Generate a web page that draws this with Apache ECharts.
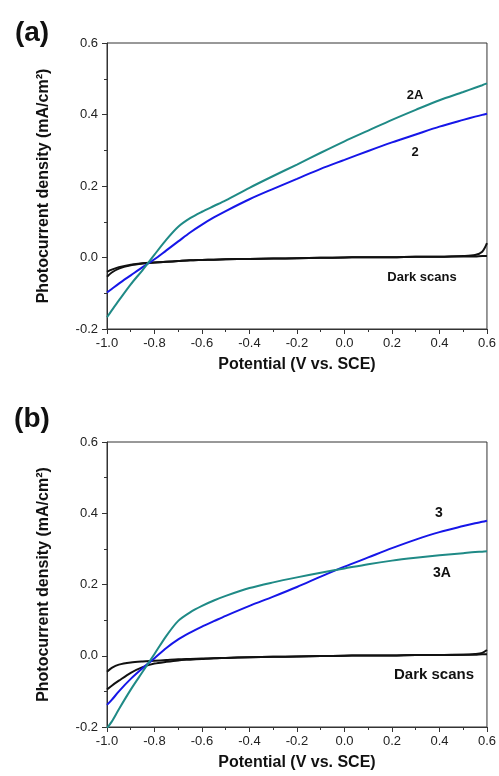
<!DOCTYPE html>
<html><head><meta charset="utf-8">
<script src="https://cdn.jsdelivr.net/npm/echarts@6/dist/echarts.min.js"></script>
<style>html,body{margin:0;padding:0;background:#fff}#c{width:499px;height:776px}</style>
</head><body><div id="c"></div>
<script>
// Shared potential grid (V vs. SCE)
const potential = [-1.0,-0.98,-0.95,-0.9,-0.85,-0.8,-0.75,-0.7,-0.65,-0.6,-0.55,-0.5,-0.4,-0.3,-0.2,-0.1,0.0,0.1,0.2,0.3,0.4,0.5,0.55,0.58,0.6];
// Panel (a)
const curve2A = [-0.167,-0.148,-0.12,-0.075,-0.035,0.008,0.05,0.086,0.11,0.128,0.144,0.16,0.195,0.228,0.26,0.293,0.325,0.355,0.385,0.413,0.44,0.463,0.475,0.482,0.487];
const curve2  = [-0.098,-0.088,-0.073,-0.05,-0.027,-0.005,0.02,0.045,0.07,0.092,0.112,0.13,0.163,0.192,0.22,0.248,0.273,0.298,0.322,0.344,0.366,0.385,0.394,0.399,0.402];
const darkA1  = [-0.054,-0.042,-0.031,-0.022,-0.017,-0.014,-0.012,-0.01,-0.008,-0.007,-0.006,-0.005,-0.004,-0.003,-0.002,-0.001,0,0.001,0.001,0.002,0.002,0.004,0.007,0.016,0.04];
const darkA2  = [-0.04,-0.034,-0.027,-0.02,-0.016,-0.014,-0.012,-0.01,-0.008,-0.007,-0.006,-0.005,-0.004,-0.003,-0.002,-0.001,0,0.001,0.001,0.002,0.002,0.003,0.003,0.004,0.004];
// Panel (b)
const curve3  = [-0.138,-0.124,-0.1,-0.065,-0.035,-0.007,0.022,0.046,0.065,0.082,0.097,0.112,0.14,0.166,0.193,0.222,0.25,0.276,0.302,0.326,0.347,0.364,0.372,0.376,0.379];
const curve3A = [-0.203,-0.185,-0.15,-0.095,-0.045,0.005,0.056,0.098,0.122,0.14,0.155,0.168,0.19,0.206,0.22,0.233,0.245,0.257,0.267,0.275,0.282,0.288,0.291,0.292,0.293];
const darkB1  = [-0.045,-0.034,-0.025,-0.019,-0.016,-0.014,-0.012,-0.01,-0.009,-0.008,-0.007,-0.006,-0.004,-0.003,-0.002,-0.001,0,0.001,0.001,0.002,0.002,0.003,0.005,0.008,0.016];
const darkB2  = [-0.095,-0.084,-0.07,-0.048,-0.032,-0.022,-0.017,-0.013,-0.011,-0.009,-0.007,-0.006,-0.004,-0.003,-0.002,-0.001,0,0.001,0.001,0.002,0.002,0.003,0.003,0.004,0.004];
// Axis settings
const xMin = -1.0, xMax = 0.6, xStep = 0.2;
const yMin = -0.2, yMax = 0.6, yStep = 0.2;
const xTitle = 'Potential (V vs. SCE)';
const yTitle = 'Photocurrent density (mA/cm\u00B2)';

const pair = ys => potential.map((x,i)=>[x, ys[i]]);
const FONT = 'Liberation Sans, Arial, sans-serif';
const BLUE = '#1616e8', TEAL = '#1f8a86', BLACK = '#111';

function xAx(gi){
  return {type:'value', gridIndex:gi, min:xMin, max:xMax, interval:xStep,
    name:xTitle, nameLocation:'middle', nameGap:28,
    nameTextStyle:{fontFamily:FONT, fontWeight:'bold', fontSize:16, color:'#111'},
    axisLine:{show:true, onZero:false, lineStyle:{color:'#333', width:1}},
    axisTick:{show:true, inside:false, length:5, lineStyle:{color:'#333'}},
    minorTick:{show:true, splitNumber:2, length:3, lineStyle:{color:'#333'}},
    splitLine:{show:false},
    axisLabel:{margin:8, fontFamily:FONT, fontSize:13, color:'#222', formatter:v=>v.toFixed(1)}};
}
function yAx(gi){
  return {type:'value', gridIndex:gi, min:yMin, max:yMax, interval:yStep,
    name:yTitle, nameLocation:'middle', nameGap:55,
    nameTextStyle:{fontFamily:FONT, fontWeight:'bold', fontSize:16, color:'#111'},
    axisLine:{show:true, onZero:false, lineStyle:{color:'#333', width:1}},
    axisTick:{show:true, inside:false, length:5, lineStyle:{color:'#333'}},
    minorTick:{show:true, splitNumber:2, length:3, lineStyle:{color:'#333'}},
    splitLine:{show:false},
    axisLabel:{margin:9, fontFamily:FONT, fontSize:13, color:'#222', formatter:v=>v.toFixed(1)}};
}
function ln(name, ys, color, gi){
  return {name, type:'line', xAxisIndex:gi, yAxisIndex:gi, data:pair(ys), showSymbol:false,
    smooth:0.3, lineStyle:{color, width:2}, itemStyle:{color}, clip:true, animation:false};
}
function txt(x,y,s,size){
  return {type:'text', x, y, style:{text:s, fontFamily:FONT, fontWeight:'bold', fontSize:size, fill:'#111', align:'center', verticalAlign:'middle'}};
}

const chart = echarts.init(document.getElementById('c'), null, {renderer:'canvas'});
chart.setOption({
  animation:false,
  backgroundColor:'#fff',
  grid:[
    {left:107, top:43, width:384, height:286, show:true, borderColor:'#333', borderWidth:1},
    {left:107, top:442, width:384, height:285, show:true, borderColor:'#333', borderWidth:1}
  ],
  xAxis:[xAx(0), xAx(1)],
  yAxis:[yAx(0), yAx(1)],
  series:[
    ln('Dark scan a1', darkA1, BLACK, 0),
    ln('Dark scan a2', darkA2, BLACK, 0),
    ln('2', curve2, BLUE, 0),
    ln('2A', curve2A, TEAL, 0),
    ln('Dark scan b1', darkB1, BLACK, 1),
    ln('Dark scan b2', darkB2, BLACK, 1),
    ln('3', curve3, BLUE, 1),
    ln('3A', curve3A, TEAL, 1)
  ],
  graphic:[
    txt(32, 33, '(a)', 28),
    txt(32, 419, '(b)', 28),
    txt(415, 95, '2A', 13),
    txt(415, 152, '2', 13),
    txt(422, 277, 'Dark scans', 13),
    txt(439, 513, '3', 14),
    txt(442, 573, '3A', 14),
    txt(434, 675, 'Dark scans', 15)
  ]
});
</script></body></html>
